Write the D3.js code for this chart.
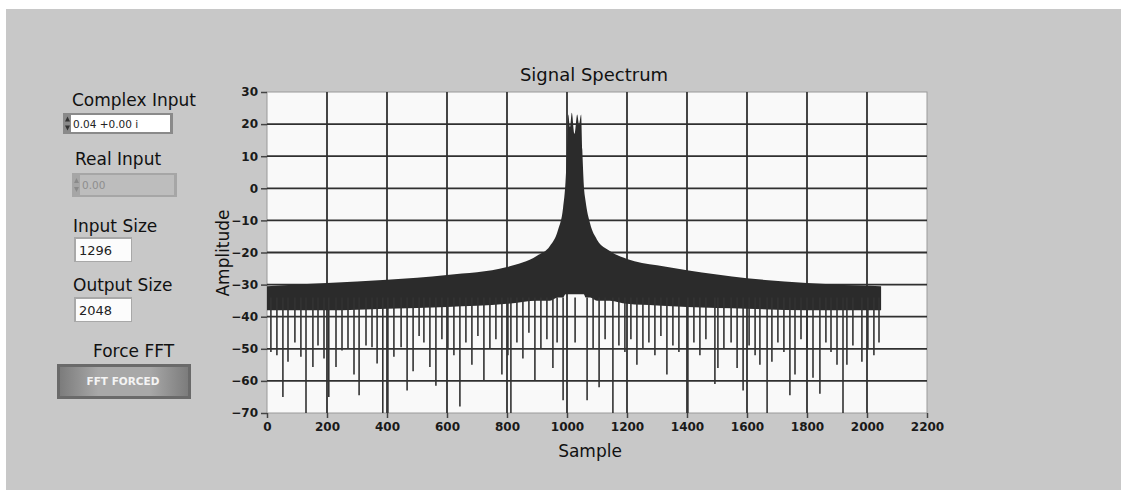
<!DOCTYPE html>
<html>
<head>
<meta charset="utf-8">
<script src="https://cdn.jsdelivr.net/npm/d3@7"></script>
<style>
  body { margin: 0; background: #fff; }
  svg { display: block; }
  text { font-family: "DejaVu Sans", sans-serif; }
</style>
</head>
<body>
<svg id="chart" width="1121" height="490"></svg>
<script>
// Data
const xTicks = [0, 200, 400, 600, 800, 1000, 1200, 1400, 1600, 1800, 2000, 2200];
const yTicks = [30, 20, 10, 0, -10, -20, -30, -40, -50, -60, -70];

// upper envelope of the spectrum and bottom of the dense band
const envSample = [0, 200, 400, 600, 800, 900, 943, 970, 987, 995, 1000, 1004, 1010, 1016, 1025, 1034, 1040, 1047, 1051, 1056, 1062, 1077, 1100, 1143, 1200, 1300, 1400, 1600, 1800, 2047];
const envTop    = [-30.5, -29.5, -28.5, -27, -24.5, -21, -18, -13, -6, 2, 12, 23, 19, 23.5, 17, 23, 20, 23, 12, 1, -4, -11, -16, -19.5, -22, -24, -25.5, -28, -29.5, -30.5];
const bandLow   = [-38, -38, -37.5, -37, -36, -35, -35, -34, -34, -33, -33, -33, -33, -33, -33, -33, -33, -33, -33, -33, -34, -34, -35, -35, -36, -36.5, -37, -37.5, -38, -38];

// individual dips below the band
const dipSample = [13, 33, 53, 70, 93, 113, 130, 153, 170, 190, 206, 230, 250, 270, 290, 307, 330, 350, 367, 386, 403, 423, 447, 467, 487, 507, 523, 543, 563, 583,
  603, 623, 643, 663, 683, 703, 723, 743, 763, 783, 803, 813, 833, 853, 873, 893, 913, 933, 953, 967, 987, 1027, 1067, 1087, 1107, 1127,
  1153, 1173, 1193, 1213, 1233, 1253, 1273, 1293, 1313, 1333, 1353, 1373, 1403, 1423, 1443, 1463, 1493, 1503, 1523, 1547, 1567, 1587, 1607, 1627, 1643, 1667, 1683, 1703, 1723, 1743, 1760, 1780, 1800, 1820, 1843, 1863, 1880, 1900, 1920, 1933, 1953, 1983, 2003, 2023, 2040];
const dipDepth  = [-51, -52, -65, -54, -48, -52.5, -70, -55.7, -49, -53, -65, -55.7, -50.5, -50, -58, -64.5, -49, -49.5, -54.6, -70, -70, -52.5, -49.5, -63, -57, -46, -48, -55.7, -61.5, -47,
  -50, -52, -68, -48, -55, -46, -60, -50, -47, -58, -52, -70, -48, -53, -45, -60, -50, -47, -56, -48, -66, -48, -66, -50, -62, -47,
  -70, -49, -51, -47, -55, -50, -48, -52, -46, -58, -49, -51, -70, -48, -52, -47, -61, -56, -50, -48, -56, -63, -49, -52, -55, -70, -54, -48, -51, -64.5, -58, -47, -50, -59, -64, -48, -51, -55, -70, -55, -49, -54, -50, -52, -48];

const W = 1121, H = 490;
const svg = d3.select("#chart");

// panel
svg.append("rect").attr("x", 6).attr("y", 9).attr("width", W - 6).attr("height", H - 9).attr("fill", "#c8c8c8");

// scales
const x = d3.scaleLinear().domain([0, 2200]).range([267, 927]);
const y = d3.scaleLinear().domain([-70, 30]).range([413, 92]);

// plot area
svg.append("rect").attr("x", 267).attr("y", 92).attr("width", 660).attr("height", 321)
  .attr("fill", "#f9f9f9").attr("stroke", "#9a9a9a").attr("stroke-width", 1);

// grid
const grid = svg.append("g").attr("stroke", "#303030").attr("stroke-width", 1.8);
grid.selectAll("line.v").data(xTicks.slice(1, -1)).join("line")
  .attr("x1", d => x(d)).attr("x2", d => x(d)).attr("y1", 92).attr("y2", 413);
grid.selectAll("line.h").data(yTicks.slice(1, -1)).join("line")
  .attr("x1", 267).attr("x2", 927).attr("y1", d => y(d)).attr("y2", d => y(d));

// spectrum
const env = envSample.map((s, i) => ({ s, top: envTop[i], low: bandLow[i] }));
svg.append("path").datum(env)
  .attr("d", d3.area().curve(d3.curveMonotoneX).x(d => x(d.s)).y0(d => y(d.low)).y1(d => y(d.top)))
  .attr("fill", "#2b2b2b");

svg.append("g").attr("stroke", "#333").attr("stroke-width", 1.6)
  .selectAll("line").data(dipSample.map((s, i) => ({ s, v: dipDepth[i] }))).join("line")
  .attr("x1", d => x(d.s)).attr("x2", d => x(d.s))
  .attr("y1", y(-34)).attr("y2", d => y(d.v));

// axes
const ax = svg.append("g").attr("transform", "translate(0,413)")
  .call(d3.axisBottom(x).tickValues(xTicks).tickFormat(d3.format("d")).tickSize(5).tickPadding(4));
const ay = svg.append("g").attr("transform", "translate(267,0)")
  .call(d3.axisLeft(y).tickValues(yTicks).tickSize(6).tickPadding(3));
[ax, ay].forEach(a => {
  a.select(".domain").remove();
  a.selectAll(".tick line").attr("stroke", "#444").attr("stroke-width", 1.5);
  a.selectAll(".tick text").attr("fill", "#1a1a1a")
    .style("font-family", "'DejaVu Sans', sans-serif").style("font-size", "12px").style("font-weight", "bold");
});

// titles
svg.append("text").attr("x", 594).attr("y", 81).attr("text-anchor", "middle")
  .style("font-size", "18px").attr("fill", "#111").text("Signal Spectrum");
svg.append("text").attr("x", 590).attr("y", 457).attr("text-anchor", "middle")
  .style("font-size", "17px").attr("fill", "#111").text("Sample");
svg.append("text").attr("transform", "translate(229,253) rotate(-90)").attr("text-anchor", "middle")
  .style("font-size", "17px").attr("fill", "#111").text("Amplitude");

// left controls
const labels = [
  { t: "Complex Input", x: 72, y: 106 },
  { t: "Real Input", x: 75, y: 165 },
  { t: "Input Size", x: 73, y: 232 },
  { t: "Output Size", x: 73, y: 291 },
  { t: "Force FFT", x: 93, y: 357 }
];
svg.append("g").selectAll("text").data(labels).join("text")
  .attr("x", d => d.x).attr("y", d => d.y).style("font-size", "17px").attr("fill", "#111").text(d => d.t);

function numeric(g, bx, by, w, h, val, enabled) {
  g.append("rect").attr("x", bx).attr("y", by).attr("width", w).attr("height", h)
    .attr("fill", enabled ? "#8a8a8a" : "#a6a6a6");
  g.append("rect").attr("x", bx + 8).attr("y", by + 2).attr("width", w - 11).attr("height", h - 4)
    .attr("fill", enabled ? "#fff" : "#bdbdbd");
  g.append("path").attr("d", `M${bx + 2},${by + h / 2 - 2} l2.5,-5 l2.5,5 z M${bx + 2},${by + h / 2 + 2} l2.5,5 l2.5,-5 z`)
    .attr("fill", enabled ? "#333" : "#8a8a8a");
  g.append("text").attr("x", bx + 10).attr("y", by + h / 2 + 4).style("font-size", "10.5px")
    .attr("fill", enabled ? "#222" : "#8e8e8e").text(val);
}
numeric(svg.append("g"), 63, 113, 110, 21, "0.04 +0.00 i", true);
numeric(svg.append("g"), 72, 173, 105, 24, "0.00", false);

function indicator(bx, by, val) {
  svg.append("rect").attr("x", bx).attr("y", by).attr("width", 58).attr("height", 25).attr("fill", "#a8a8a8");
  svg.append("rect").attr("x", bx + 2).attr("y", by + 2).attr("width", 55).attr("height", 22).attr("fill", "#fcfcfc");
  svg.append("text").attr("x", bx + 5).attr("y", by + 18).style("font-size", "13px").attr("fill", "#222").text(val);
}
indicator(74, 237, "1296");
indicator(74, 297, "2048");

// button
const defs = svg.append("defs");
const gv = defs.append("linearGradient").attr("id", "btn").attr("x1", 0).attr("x2", 1).attr("y1", 0).attr("y2", 0);
gv.append("stop").attr("offset", 0).attr("stop-color", "#7c7c7c");
gv.append("stop").attr("offset", 0.3).attr("stop-color", "#a8a8a8");
gv.append("stop").attr("offset", 0.7).attr("stop-color", "#a8a8a8");
gv.append("stop").attr("offset", 1).attr("stop-color", "#7c7c7c");
svg.append("rect").attr("x", 57).attr("y", 364).attr("width", 134).attr("height", 35).attr("fill", "#6a6a6a");
svg.append("rect").attr("x", 60).attr("y", 367).attr("width", 128).attr("height", 29).attr("fill", "url(#btn)");
svg.append("text").attr("x", 123).attr("y", 385).attr("text-anchor", "middle")
  .style("font-size", "10.5px").style("font-weight", "bold").attr("fill", "#f4f4f4").text("FFT FORCED");
</script>
</body>
</html>
